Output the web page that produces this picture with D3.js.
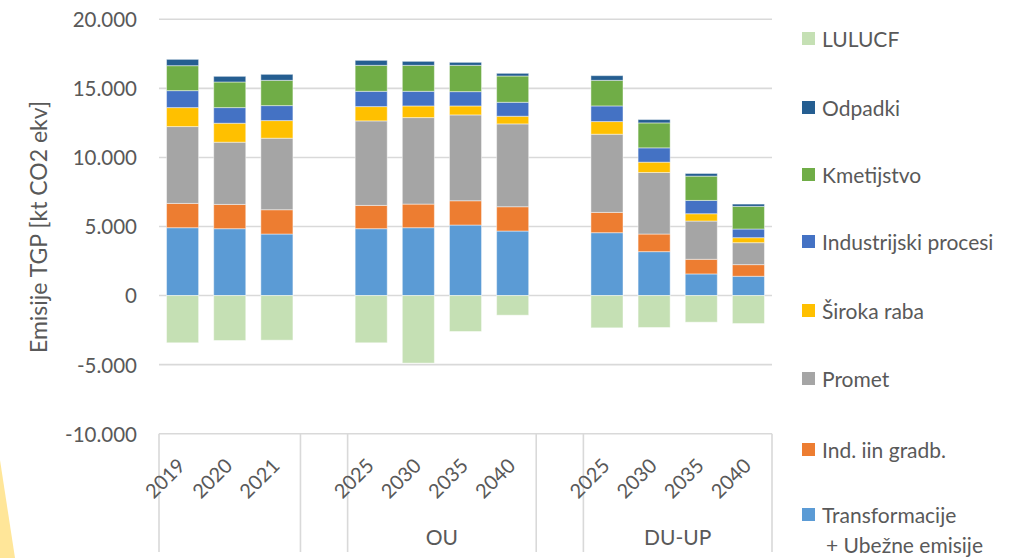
<!DOCTYPE html>
<html>
<head>
<meta charset="utf-8">
<script src="https://cdn.jsdelivr.net/npm/d3@7"></script>
<style>
  html, body { margin: 0; padding: 0; background: #fff; }
  svg { display: block; }
  text { font-family: Lato, "Open Sans", sans-serif; fill: #595959; }
</style>
</head>
<body>
<svg id="chart" width="1017" height="558"></svg>
<script>
// ---- data ----
const years = ["2019","2020","2021","2025","2030","2035","2040","2025","2030","2035","2040"];
const scenarios = ["","","","OU","OU","OU","OU","DU-UP","DU-UP","DU-UP","DU-UP"];
const groupNames = ["", "OU", "DU-UP"];

const transformacije = [4913, 4841, 4455, 4841, 4913, 5106, 4672, 4552, 3179, 1566, 1397];
const indGradb      = [1758, 1758, 1759, 1686, 1710, 1758, 1759, 1470, 1276, 1060, 843];
const promet        = [5564, 4504, 5178, 6118, 6262, 6214, 5997, 5659, 4456, 2769, 1589];
const sirokaRaba    = [1373, 1373, 1276, 1035, 843, 650, 554, 915, 747, 530, 362];
const industrijski  = [1228, 1132, 1084, 1108, 1060, 1036, 1011, 1132, 1036, 963, 626];
const kmetijstvo    = [1807, 1854, 1830, 1879, 1879, 1903, 1903, 1854, 1806, 1758, 1638];
const odpadki       = [457, 409, 434, 361, 289, 217, 192, 338, 241, 193, 168];
const lulucf        = [-3418, -3251, -3228, -3418, -4889, -2601, -1421, -2336, -2312, -1927, -2023];

const seriesNames = ["Transformacije + Ubežne emisije", "Ind. iin gradb.", "Promet", "Široka raba",
                     "Industrijski procesi", "Kmetijstvo", "Odpadki", "LULUCF"];
const seriesValues = [transformacije, indGradb, promet, sirokaRaba, industrijski, kmetijstvo, odpadki, lulucf];
const seriesColors = ["#5B9BD5", "#ED7D31", "#A5A5A5", "#FFC000", "#4472C4", "#70AD47", "#255E91", "#C5E0B4"];

const yTicks = [-10000, -5000, 0, 5000, 10000, 15000, 20000];
const yTitle = "Emisije TGP [kt CO2 ekv]";

// legend order (top to bottom)
const legendOrder = ["LULUCF", "Odpadki", "Kmetijstvo", "Industrijski procesi", "Široka raba", "Promet",
                     "Ind. iin gradb.", "Transformacije + Ubežne emisije"];

// ---- build slots (with empty gap categories between groups) ----
const slots = [];
groupNames.forEach((g, gi) => {
  if (gi > 0) slots.push({ key: "gap" + gi, gap: true, group: null });
  years.forEach((yr, i) => {
    if (scenarios[i] === g) slots.push({ key: g + "-" + yr + "-" + i, gap: false, idx: i, year: yr, group: g });
  });
});

const rows = slots.map(s => {
  const r = { key: s.key };
  seriesNames.forEach((n, k) => { r[n] = s.gap ? 0 : seriesValues[k][s.idx]; });
  return r;
});

// ---- layout ----
const svg = d3.select("#chart");
const plotLeft = 159, plotRight = 772, plotTop = 19.3, yMinPx = 433.7;

const x = d3.scaleBand().domain(slots.map(s => s.key)).range([plotLeft, plotRight])
  .paddingInner(0.32).paddingOuter(0.16);
const y = d3.scaleLinear().domain([-10000, 20000]).range([yMinPx, plotTop]);

const loc = d3.formatLocale({ decimal: ",", thousands: ".", grouping: [3], currency: ["", ""], minus: "-" });
const fmt = loc.format(",.0f");

// background triangle decoration
svg.append("path").attr("d", "M0,460 L15,558 L0,558 Z").attr("fill", "#FFE699");

// gridlines
svg.append("g").selectAll("line").data(yTicks).join("line")
  .attr("x1", plotLeft).attr("x2", plotRight)
  .attr("y1", d => y(d)).attr("y2", d => y(d))
  .attr("stroke", "#D9D9D9").attr("stroke-width", 1.6);

// y axis labels
const yAxis = d3.axisLeft(y).tickValues(yTicks).tickFormat(fmt).tickSize(0).tickPadding(0);
const gy = svg.append("g").attr("transform", `translate(${plotLeft - 22},0)`).call(yAxis);
gy.select(".domain").remove();
gy.selectAll("text").style("font-size", "20.5px").style("font-family", "Lato, sans-serif")
  .attr("fill", "#595959").attr("dy", "0.36em");

// y title
svg.append("text")
  .attr("transform", `translate(47,227) rotate(-90)`)
  .attr("text-anchor", "middle")
  .style("font-size", "23px")
  .text(yTitle);

// stacked bars
const stack = d3.stack().keys(seriesNames).offset(d3.stackOffsetDiverging);
const stacked = stack(rows);

svg.append("g").selectAll("g").data(stacked).join("g")
  .attr("fill", (d, i) => seriesColors[i])
  .selectAll("rect").data(d => d.filter(p => p[1] !== p[0])).join("rect")
  .attr("x", d => x(d.data.key))
  .attr("width", x.bandwidth())
  .attr("y", d => y(Math.max(d[0], d[1])))
  .attr("height", d => Math.abs(y(d[0]) - y(d[1])))
  .attr("stroke", "#ffffff").attr("stroke-opacity", 0.45).attr("stroke-width", 1);

// category axis: group dividers
const step = x.step();
const bounds = [plotLeft];
slots.forEach(s => {
  if (s.gap) {
    bounds.push(x(s.key) - x.paddingInner() * step / 2);
    bounds.push(x(s.key) + x.bandwidth() + x.paddingInner() * step / 2);
  }
});
bounds.push(plotRight);
svg.append("g").selectAll("line").data(bounds).join("line")
  .attr("x1", d => d).attr("x2", d => d)
  .attr("y1", yMinPx).attr("y2", 552)
  .attr("stroke", "#D9D9D9").attr("stroke-width", 1.6);

// year labels
svg.append("g").selectAll("text").data(slots.filter(s => !s.gap)).join("text")
  .attr("transform", d => `translate(${x(d.key) + x.bandwidth() / 2 + 4},467) rotate(-45)`)
  .attr("text-anchor", "end")
  .style("font-size", "20px")
  .text(d => d.year);

// group labels
const groupSpans = groupNames.map(g => {
  const ss = slots.filter(s => s.group === g);
  const a = x(ss[0].key), b = x(ss[ss.length - 1].key) + x.bandwidth();
  return { g, mid: (a + b) / 2 };
}).filter(d => d.g !== "");
svg.append("g").selectAll("text").data(groupSpans).join("text")
  .attr("x", d => d.mid).attr("y", 537).attr("dy", "0.36em")
  .attr("text-anchor", "middle")
  .style("font-size", "21px")
  .text(d => d.g);

// legend
const legY = [39, 108, 175, 242, 311, 379, 450, 515];
const lg = svg.append("g").selectAll("g").data(legendOrder).join("g")
  .attr("transform", (d, i) => `translate(802,${legY[i]})`);
lg.append("rect").attr("x", 0).attr("y", -7).attr("width", 13).attr("height", 13)
  .attr("fill", d => seriesColors[seriesNames.indexOf(d)]);
lg.each(function (d) {
  const g = d3.select(this);
  const parts = d === "Transformacije + Ubežne emisije" ? ["Transformacije", "+ Ubežne emisije"] : [d];
  parts.forEach((p, j) => {
    g.append("text").attr("x", j === 0 ? 20 : 24).attr("y", j * 30).attr("dy", "0.36em")
      .style("font-size", "21px").text(p);
  });
});
</script>
</body>
</html>
